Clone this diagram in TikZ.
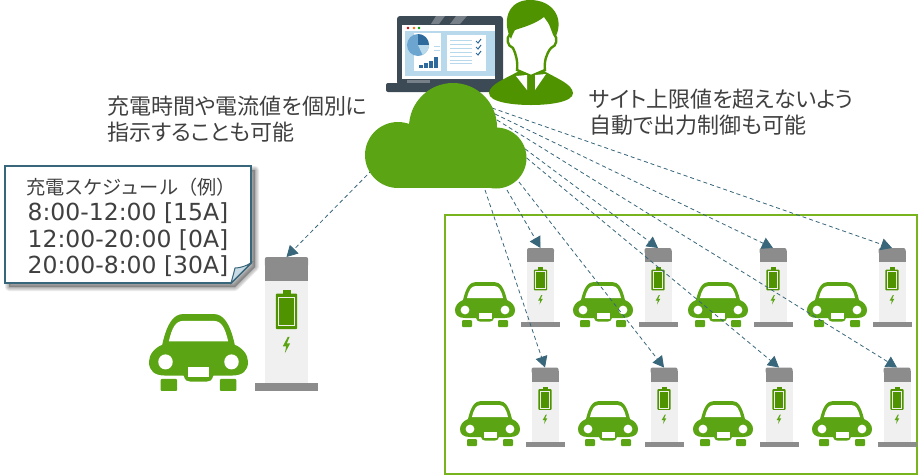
\documentclass[tikz,border=0pt]{standalone}
\usepackage{fontspec}
\setmainfont{DejaVu Sans}
\newfontfamily\jpfont[RawFeature=+palt]{Noto Sans CJK JP}
\newfontfamily\jptitle{Noto Sans CJK JP}
\usetikzlibrary{
    arrows.meta
}
\definecolor{leaf}{HTML}{5BA414}
\definecolor{leafdark}{HTML}{4F9400}
\definecolor{framegreen}{HTML}{77B41E}
\definecolor{linkteal}{HTML}{38667A}
\definecolor{notepale}{HTML}{C9DCE6}
\definecolor{capgrey}{HTML}{8C8C8C}
\definecolor{bodygrey}{HTML}{F0F0F0}
\definecolor{slate}{HTML}{3C4A56}
\definecolor{screenblue}{HTML}{B7D9EB}
\definecolor{chartblue}{HTML}{2F6A9C}
\definecolor{chartmid}{HTML}{6CA6D0}
\definecolor{textgrey}{HTML}{404040}

\begin{document}
\begin{tikzpicture}[
        x=1pt, y=-1pt,
        every node/.style={
            text=textgrey,
            inner sep=0pt
        },
        caption/.style={
            font=\jpfont\fontsize{22pt}{26pt}\selectfont,
            align=left,
            anchor=north west
        },
        schedule/.style={
            font=\fontsize{23.5pt}{26.5pt}\selectfont,
            align=center
        },
        link/.style={
            -{Triangle[length=11pt,width=12pt]},
            draw=linkteal,
            line width=0.8pt,
            dash pattern=on 4pt off 3pt
        },
        pics/charger/.style={code={
            \fill[bodygrey] (-13.5,12) rectangle (13.5,75);
            \fill[capgrey, rounded corners=2pt] (-13.5,0) rectangle (13.5,6);
            \fill[capgrey] (-13.5,3) rectangle (13.5,14);
            \fill[capgrey] (-19.5,74) rectangle (19.5,79);
            \fill[leafdark] (-2.5,19.4) rectangle (2.5,22);
            \fill[leafdark, rounded corners=1pt] (-6.7,21.5) rectangle (6.7,42.4);
            \draw[bodygrey, line width=0.7pt] (-4.8,23.5) rectangle (4.8,40.4);
            \fill[leaf] (0.8,47) -- (-2.3,52.5) -- (-0.2,52.5) -- (-1,56.5)
                -- (2.3,50.8) -- (0.2,50.8) -- (1.9,47) -- cycle;
            \coordinate (-top) at (0,0);
        }},
        pics/car/.style={code={
            \fill[leaf] (-9,0) -- (9,0) .. controls (15,0) and (19,5) .. (22,18)
                .. controls (27,20) and (30,24) .. (30,28)
                .. controls (30,33) and (27,36) .. (20,36)
                -- (9,36) .. controls (8,39) and (7,39.5) .. (5,39.5)
                -- (-5,39.5) .. controls (-7,39.5) and (-8,39) .. (-9,36)
                -- (-20,36) .. controls (-27,36) and (-30,33) .. (-30,28)
                .. controls (-30,24) and (-27,20) .. (-22,18)
                .. controls (-19,5) and (-15,0) .. (-9,0) -- cycle;
            \fill[leaf, rounded corners=1pt] (-23,38) rectangle (-13,45);
            \fill[leaf, rounded corners=1pt] (13,38) rectangle (23,45);
            \fill[white] (-18,16) .. controls (-16,8) and (-14,4) .. (-9,4) -- (9,4)
                .. controls (14,4) and (16,8) .. (18,16) -- cycle;
            \fill[white] (-20,28) circle (4.4);
            \fill[white] (20,28) circle (4.4);
            \fill[white] (-6.5,31) rectangle (6.5,37);
        }}
    ]

    \useasboundingbox (0,0) rectangle (918,475);

    \draw[framegreen, line width=2pt] (444.5,215) rectangle (917,474);

    % small charging stations and parked cars
    \foreach \nm/\cx in {t1/540.5, t2/658, t3/773, t4/892}
        \pic (\nm) at (\cx,248) {charger};
    \foreach \nm/\cx in {b1/545, b2/664, b3/779, b4/897}
        \pic (\nm) at (\cx,367.5) {charger};
    \foreach \cx in {485, 603, 718, 837}
        \pic at (\cx,282) {car};
    \foreach \cx in {490, 608, 723, 842}
        \pic at (\cx,401) {car};

    % single station on the left
    \pic[xscale=1.6, yscale=1.7] (solo) at (286.5,257) {charger};
    \pic[xscale=1.65, yscale=1.71] at (198.5,314) {car};

    % start points hidden under the cloud
    \coordinate (cloudA) at (492,108);
    \coordinate (cloudB) at (495,114);
    \coordinate (cloudC) at (497,128);
    \coordinate (cloudD) at (497,120);
    \coordinate (cloudE) at (505,140);
    \coordinate (cloudF) at (519,182);
    \coordinate (cloudG) at (507,190);
    \coordinate (cloudH) at (485,190);
    \coordinate (cloudL) at (372,170);

    \foreach \from/\to in {cloudA/t4, cloudB/t3, cloudC/t2, cloudD/b4,
                           cloudE/b3, cloudF/b2, cloudG/t1, cloudH/b1, cloudL/solo}
        \draw[link] (\from) -- (\to-top);

    % laptop
    \fill[slate, rounded corners=3pt] (397,16) rectangle (503,85);
    \fill[slate!70!white] (436,16) -- (445,16) -- (439,24) -- (431,24) -- cycle;
    \fill[slate!70!white] (456,16) -- (467,16) -- (460,24) -- (450,24) -- cycle;
    \fill[black!70] (450,19) circle (1.5);
    \fill[slate!70!white] (407,80) rectangle (430,84);
    \fill[slate, rounded corners=2pt] (386,83) rectangle (510,92);
    \fill[white] (402,25) rectangle (495,79);
    \fill[screenblue] (405,31) rectangle (495,76);
    \fill[red!80!black] (408,28) circle (1.4);
    \fill[orange!80!red] (414,28) circle (1.4);
    \fill[green!60!black] (419,28) circle (1.4);
    \fill[white] (414,33) rectangle (441,71);
    \fill[white] (447,35) rectangle (486,71);
    \fill[chartmid] (418,45) circle (11);
    \fill[chartblue] (418,45) -- (418,34) arc[start angle=-90, end angle=0, radius=11] -- cycle;
    \fill[screenblue] (418,45) -- (429,45) arc[start angle=0, end angle=65, radius=11] -- cycle;
    \foreach \ly in {40,44,48,52,56,60,63}
        \draw[screenblue, line width=0.8pt] (450,\ly) -- (472,\ly);
    \foreach \ly in {41,47,53}
        \draw[chartblue, line width=1pt] (476,\ly) -- (478,\ly+2) -- (481,\ly-2);
    \draw[screenblue, line width=1pt] (434,46) -- (440,46) (434,50) -- (440,50);
    \foreach \bx/\bt in {419/65, 424/63, 429/61, 434/57}
        \fill[chartblue] (\bx,\bt) rectangle (\bx+4,68);

    % operator figure
    \fill[leafdark] (489,93) .. controls (490,84) and (505,79) .. (519,71)
        -- (544,71) .. controls (558,79) and (572,84) .. (573,93)
        .. controls (573,102) and (550,105) .. (531,105)
        .. controls (512,105) and (489,102) .. (489,93) -- cycle;
    \draw[leafdark, line width=2.4pt, fill=white] (510,34)
        .. controls (506,38) and (507,46) .. (513,48)
        .. controls (516,54) and (518,62) .. (517,70)
        -- (531,76) -- (545,70)
        .. controls (544,62) and (546,54) .. (551,48)
        .. controls (557,46) and (558,38) .. (554,34)
        -- (545,10) -- (520,14) -- cycle;
    \fill[leafdark] (511,39) .. controls (502,22) and (507,0) .. (530,0)
        .. controls (553,0) and (564,18) .. (556,36)
        .. controls (553,30) and (549,24) .. (544,17)
        .. controls (535,24) and (524,27) .. (515,30)
        .. controls (513,33) and (512,36) .. (511,39) -- cycle;
    \fill[white] (516,76) -- (527,75) -- (527,90) -- cycle;
    \fill[white] (535,75) -- (546,74) -- (535,90) -- cycle;

    % cloud
    \fill[leaf] (398,155) circle (33);
    \fill[leaf] (453,127) circle (44);
    \fill[leaf] (496,158) circle (30.5);
    \fill[leaf] (398,130) rectangle (496,188);

    % soft shadow under the schedule note
    \foreach \spread in {8,6,4,2}
        \draw[black, opacity=0.08, line width=\spread pt, line join=round, fill=black, fill opacity=0.08]
            (9,170) -- (255,170) -- (255,267) -- (235,287) -- (9,287) -- cycle;

    % schedule note
    \draw[fill=white, draw=linkteal, line width=1.8pt]
        (5,166) -- (251,166) -- (251,263) -- (231,283) -- (5,283) -- cycle;
    \draw[linkteal, line width=1pt, fill=notepale] (231,283) .. controls (233,276) and (234,272) .. (235,268)
        .. controls (240,268) and (246,266) .. (251,263) -- cycle;

    \node[schedule] (sched) at (128,227.5)
        {\hspace*{6pt}{\jptitle\fontsize{19.2pt}{26.5pt}\selectfont 充電スケジュール（例）}\\
         8:00-12:00 [15A]\\
         12:00-20:00 [0A]\\
         20:00-8:00 [30A]};

    \node[caption] (perunit) at (107,96)
        {充電時間や電流値を個別に\\指示することも可能};
    \node[caption] (sitecap) at (589,89)
        {サイト上限値を超えないよう\\自動で出力制御も可能};

\end{tikzpicture}
\end{document}
